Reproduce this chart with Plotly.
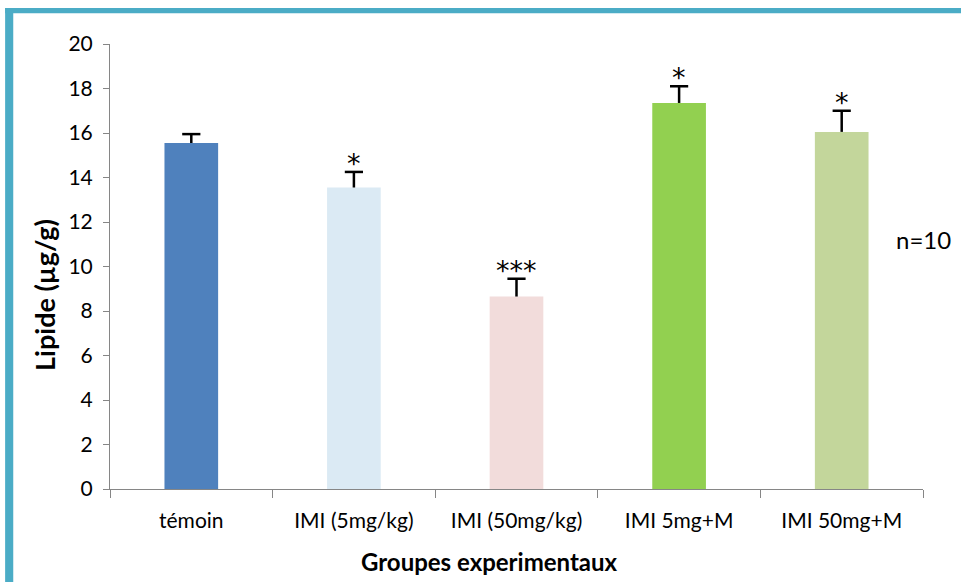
import plotly.graph_objects as go

categories = ["témoin", "IMI (5mg/kg)", "IMI (50mg/kg)", "IMI 5mg+M", "IMI 50mg+M"]
values = [15.55, 13.55, 8.65, 17.35, 16.05]
errors = [0.4, 0.7, 0.8, 0.75, 0.95]
stars = ["", "*", "***", "*", "*"]
colors = ["#4F81BD", "#DBEAF4", "#F2DCDB", "#92D050", "#C3D69B"]
yticks = list(range(0, 21, 2))

FONT = "Lato, Open Sans, sans-serif"
tops = [v + e for v, e in zip(values, errors)]

fig = go.Figure()
fig.add_trace(go.Bar(
    x=categories, y=values,
    marker=dict(color=colors, line=dict(width=0)),
    width=0.33,
))
# upward-only error bars: vertical stem + cap marker at top
fig.add_trace(go.Scatter(
    x=categories, y=values, mode="markers",
    marker=dict(size=1, color="rgba(0,0,0,0)"),
    error_y=dict(type="data", array=errors, symmetric=False, arrayminus=[0]*5,
                 color="black", thickness=2.5, width=0),
    hoverinfo="skip",
))
fig.add_trace(go.Scatter(
    x=categories, y=tops, mode="markers",
    marker=dict(symbol="line-ew", size=13, line=dict(width=2.5, color="black")),
    hoverinfo="skip",
))

for c, t, s in zip(categories, tops, stars):
    if s:
        fig.add_annotation(x=c, y=t, text=s, showarrow=False,
                           yanchor="bottom", yshift=-9,
                           font=dict(family="DejaVu Sans, sans-serif", size=27, color="black"))

fig.add_annotation(xref="paper", yref="paper", x=1.001, y=0.56, text="n=10",
                   showarrow=False, xanchor="center", yanchor="middle",
                   font=dict(family=FONT, size=24, color="black"))

# axis titles
fig.add_annotation(xref="paper", yref="paper", x=0.467, y=-0.164, text="<b>Groupes experimentaux</b>",
                   showarrow=False, xanchor="center", yanchor="middle",
                   font=dict(family=FONT, size=24, color="black"))
fig.add_annotation(xref="paper", yref="paper", x=-0.08, y=0.436, text="<b>Lipide (µg/g)</b>",
                   showarrow=False, xanchor="center", yanchor="middle", textangle=-90,
                   font=dict(family=FONT, size=27, color="black"))

# frame
border = "#4BACC6"
fig.add_shape(type="rect", xref="paper", yref="paper", x0=-0.129, x1=-0.119,
              y0=-0.3, y1=1.081, fillcolor=border, line=dict(width=0), layer="above")
fig.add_shape(type="rect", xref="paper", yref="paper", x0=-0.129, x1=1.2,
              y0=1.069, y1=1.081, fillcolor=border, line=dict(width=0), layer="above")

fig.update_layout(
    width=961, height=582,
    margin=dict(l=110, r=38, t=44, b=93),
    paper_bgcolor="white", plot_bgcolor="white",
    showlegend=False,
    font=dict(family=FONT, size=15, color="black"),
    xaxis=dict(
        type="category", tickson="boundaries", ticks="outside", ticklen=8,
        tickcolor="#868686", showline=True, linecolor="#868686", linewidth=1,
        tickfont=dict(family=FONT, size=21), ticklabelstandoff=13,
        showgrid=False,
    ),
    yaxis=dict(
        range=[0, 20], tickvals=yticks, ticks="outside", ticklen=6,
        tickcolor="#868686", showline=True, linecolor="#868686", linewidth=1,
        tickfont=dict(family=FONT, size=21), ticklabelstandoff=6,
        showgrid=False, zeroline=False,
    ),
)

fig.write_html("out.html")
